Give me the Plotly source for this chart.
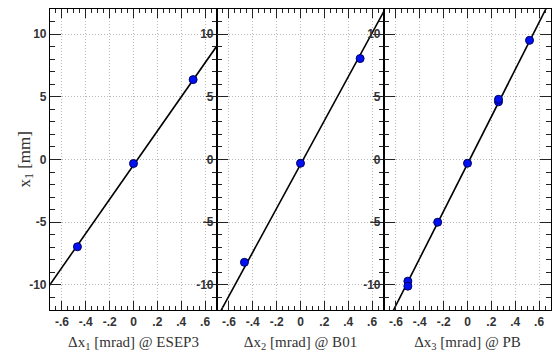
import plotly.graph_objects as go
from plotly.subplots import make_subplots

# ---- data ----
p1_x = [-0.47, 0.0, 0.5]
p1_y = [-6.96, -0.32, 6.37]
p2_x = [-0.47, 0.0, 0.5]
p2_y = [-8.2, -0.3, 8.05]
p3_x = [-0.5, -0.5, -0.25, 0.0, 0.26, 0.26, 0.52]
p3_y = [-9.7, -10.1, -5.0, -0.3, 4.6, 4.8, 9.5]

# fitted lines (end points)
fit1_x = [-0.75, 0.75]
fit1_y = [-10.65, 9.75]
fit2_x = [-0.75, 0.75]
fit2_y = [-13.5, 12.7]
fit3_x = [-0.75, 0.75]
fit3_y = [-14.45, 13.75]

x_tickvals = [-0.6, -0.4, -0.2, 0.0, 0.2, 0.4, 0.6]
x_ticktext = ["-.6", "-.4", "-.2", "0", ".2", ".4", ".6"]
y_tickvals = [-10, -5, 0, 5, 10]
y_ticktext = ["-10", "-5", "0", "5", "10"]

x_titles = ["Δx<sub>1</sub> [mrad] @ ESEP3",
            "Δx<sub>2</sub> [mrad] @ B01",
            "Δx<sub>3</sub> [mrad] @ PB"]
y_title = "x<sub>1</sub> [mm]"

fig = make_subplots(rows=1, cols=3, horizontal_spacing=0)

panels = [(p1_x, p1_y, fit1_x, fit1_y),
          (p2_x, p2_y, fit2_x, fit2_y),
          (p3_x, p3_y, fit3_x, fit3_y)]

for i, (px, py, fx, fy) in enumerate(panels, start=1):
    fig.add_trace(go.Scatter(x=fx, y=fy, mode="lines",
                             line=dict(color="black", width=1.6),
                             showlegend=False, hoverinfo="skip"), row=1, col=i)
    fig.add_trace(go.Scatter(x=px, y=py, mode="markers",
                             marker=dict(color="#0010f0", size=8, symbol="circle",
                                         line=dict(color="#000060", width=1)),
                             showlegend=False), row=1, col=i)

tick_font = dict(family="Liberation Sans, Arial, sans-serif", size=12,
                 color="#333333", weight="bold")
title_font = dict(family="Liberation Serif, Times New Roman, serif", size=15,
                  color="#333333")

for i in range(1, 4):
    fig.update_xaxes(row=1, col=i,
                     range=[-0.7, 0.7],
                     tickvals=x_tickvals, ticktext=x_ticktext,
                     ticks="inside", ticklen=9, tickcolor="#222", tickwidth=1,
                     minor=dict(ticks="inside", ticklen=4, dtick=0.05,
                                tickcolor="#222", showgrid=False),
                     showline=True, linecolor="black", linewidth=1.2,
                     mirror="allticks",
                     showgrid=True, gridcolor="#b8b8b8", griddash="1px,2px",
                     gridwidth=1, zeroline=False,
                     tickfont=tick_font,
                     title=dict(text=x_titles[i - 1], font=title_font, standoff=10))
    fig.update_yaxes(row=1, col=i,
                     range=[-12, 12],
                     tickvals=y_tickvals, ticktext=y_ticktext,
                     ticks="inside", ticklen=11, tickcolor="#222", tickwidth=1,
                     minor=dict(ticks="inside", ticklen=5, dtick=1,
                                tickcolor="#222", showgrid=False),
                     showline=True, linecolor="black", linewidth=1.2,
                     mirror="allticks",
                     showgrid=True, gridcolor="#b8b8b8", griddash="1px,2px",
                     gridwidth=1, zeroline=False,
                     tickfont=tick_font)

fig.add_annotation(text=y_title, xref="paper", yref="paper",
                   x=-25 / 501, y=0.5, xanchor="center", yanchor="middle",
                   textangle=-90, showarrow=False,
                   font=dict(family="Liberation Serif, Times New Roman, serif",
                             size=17, color="#333333"))

fig.update_layout(width=553, height=352,
                  margin=dict(l=50, r=2, t=9, b=42),
                  paper_bgcolor="white", plot_bgcolor="white")

fig.write_html("out.html")
